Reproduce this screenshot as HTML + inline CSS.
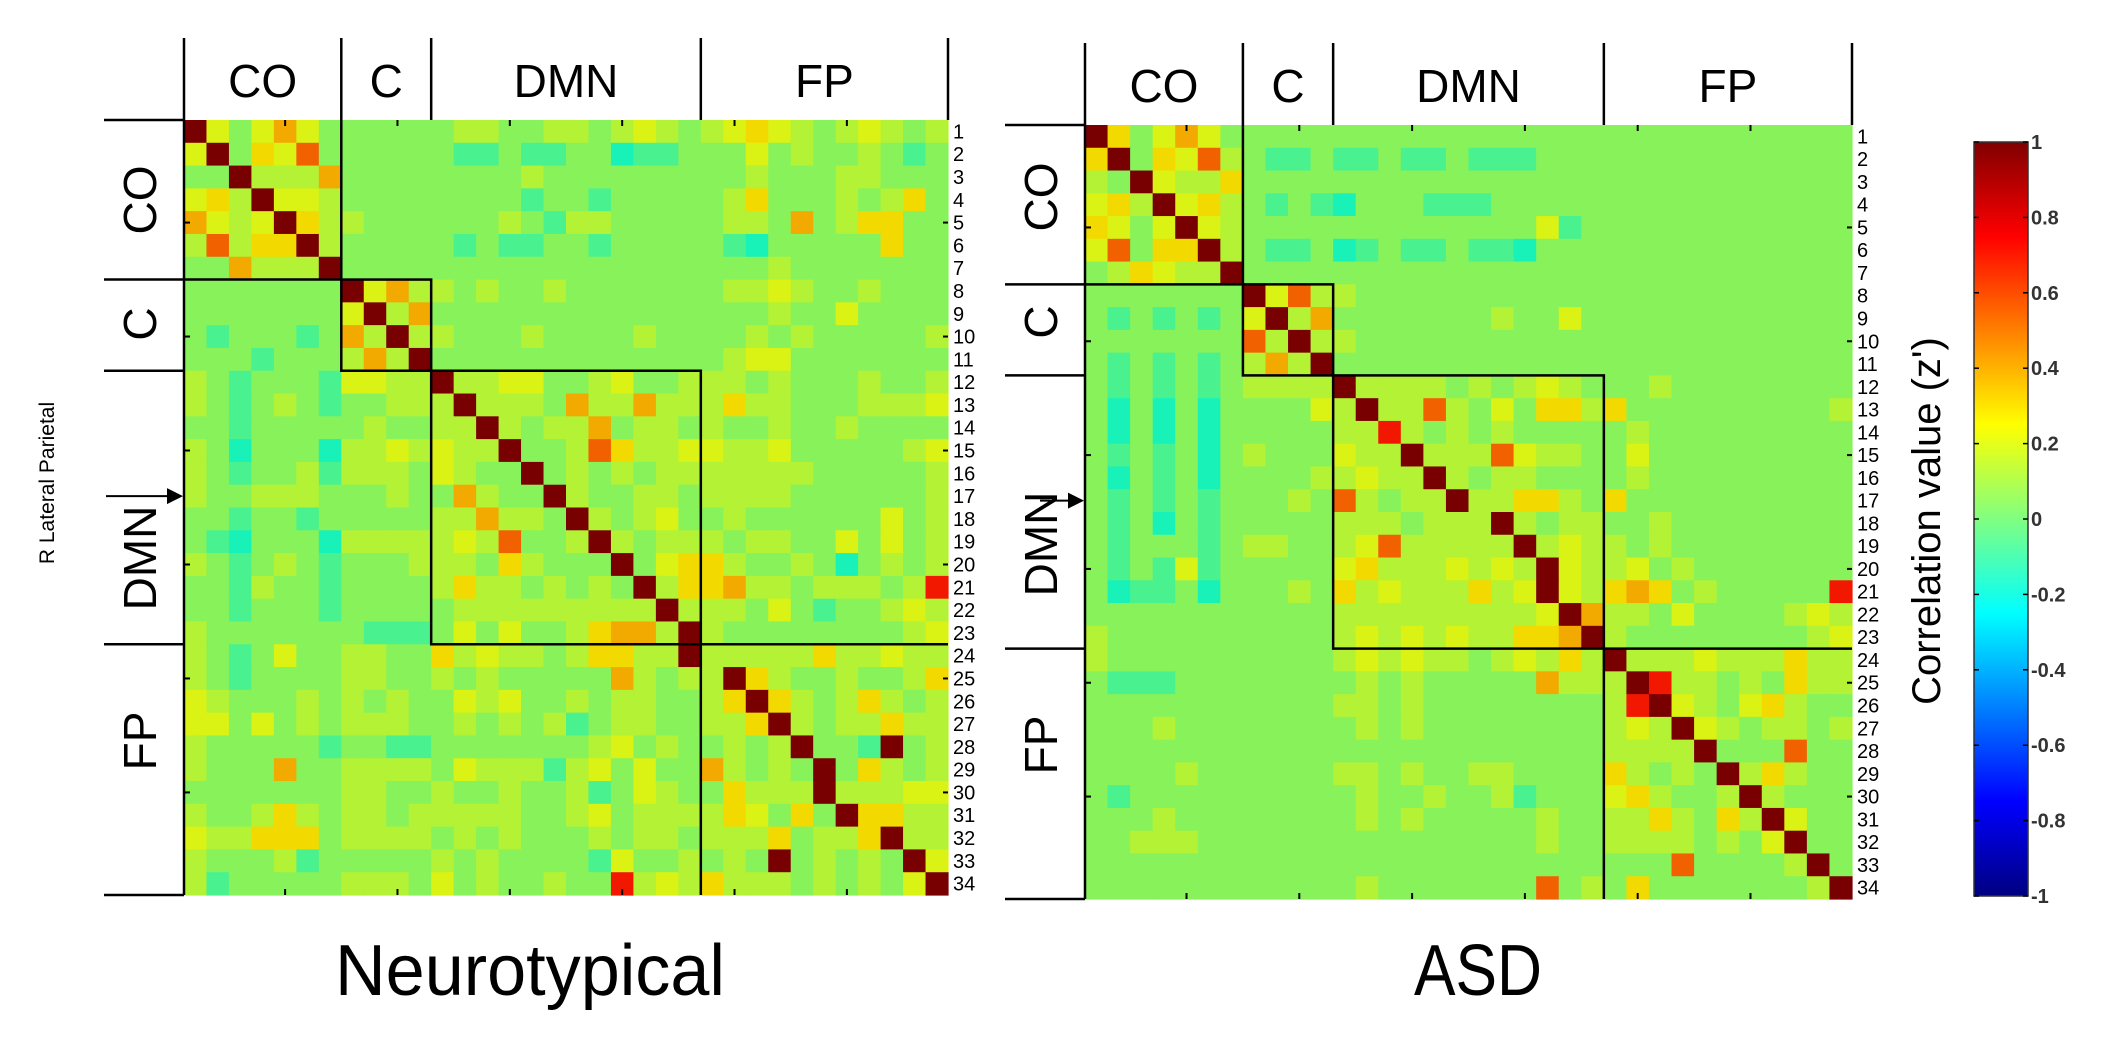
<!DOCTYPE html>
<html><head><meta charset="utf-8"><style>
html,body{margin:0;padding:0;background:#fff;}
svg{display:block;font-family:"Liberation Sans",sans-serif;}
</style></head><body>
<svg id="fig" width="2122" height="1039" viewBox="0 0 2122 1039" xmlns="http://www.w3.org/2000/svg">
<defs>
<linearGradient id="jet" x1="0" y1="1" x2="0" y2="0">
<stop offset="0" stop-color="#000080"/><stop offset="0.125" stop-color="#0000ff"/><stop offset="0.375" stop-color="#00ffff"/><stop offset="0.5" stop-color="#80ff80"/><stop offset="0.625" stop-color="#ffff00"/><stop offset="0.875" stop-color="#ff0000"/><stop offset="1" stop-color="#800000"/>
</linearGradient>
<marker id="arr" markerWidth="8" markerHeight="8" refX="7" refY="4" orient="auto"><path d="M0,0 L8,4 L0,8 z" fill="#000"/></marker>
</defs>
</svg>
<script>
// value code per digit
const levelValues = [-0.2,-0.1,0.03,0.12,0.2,0.3,0.4,0.55,0.7,1.0];
const groupNames = ["CO","C","DMN","FP"];
const groupSizes = [7,4,12,11];
const cbTicks = [1,0.8,0.6,0.4,0.2,0,-0.2,-0.4,-0.6,-0.8,-1];
const ntRows = [
"9424642222223322332343234543234323",
"4925472222221121122011222423223212",
"2293336222222223222222222322233222",
"4539443222222221221222223522232352",
"6434953322222232133222223326235522",
"3735593222221211221222221022222522",
"2263339222222222222222222232222222",
"2222222946332322322222223343223222",
"2222222493622222222222222232242222",
"2122212639332223222232222323222223",
"2221222363922222222222223442222222",
"3212221443393344223422333232223223",
"3212321223339333263363335332223334",
"2212222232233932336233232232232222",
"3202220334343392237533443342222234",
"3212231333243229232323333333222223",
"3223332223226322932233233332222223",
"2212212222233633293234223222222423",
"2102220333334372239323332332242423",
"3212321222333253222924553223202323",
"2213221222235332323293556332333238",
"2212221222223333333339333242122343",
"3222222211124242235663932222222234",
"3212422332253433235533933333533433",
"3212222332232322222632339532232235",
"4322232323224342232332235953235323",
"4424232333223232312332233593233533",
"3222221221122222223423223239221923",
"3222622333324333134242263232925323",
"2222222332232232231243225333933344",
"3223532332333332234233335425295533",
"4335552333323232223233233352335933",
"3222312222232322221422323292323294",
"3122222333242322322834353332323249"];
const asdRows = [
"9524642222222222222222222222222222",
"5925473211211211211122222222222222",
"3294335222222222222222222222222222",
"4539453212102221112222222222222222",
"5424943222222222222241222222222222",
"4725593211201211211022222222222222",
"2354339222222222222222222222222222",
"2222222947332222222222222222222222",
"2121212493622222223224222222222222",
"2222222739332222222222222222222222",
"2121212363922222222222222222222222",
"2121212333393333232343222322222222",
"2020202222439337324255352222222223",
"2020202222233832323222223222222222",
"2121202322243393337433224222222222",
"2021202222334339323322223222222222",
"2121212223273233933553252222222222",
"2120212222233323339323322322222222",
"2122212332234733333934332322222222",
"2121412222245333434394334232222222",
"2011202223253433353494356523222228",
"2222222222233333333349633242222343",
"3222222222234343433556932222222234",
"3222222222234343323435393334333533",
"2111222222223232222263339833232533",
"2222222222233232222222238943245322",
"2223222222223232222222234394323323",
"2222222222222222222222233339222722",
"2222322222233232233222253232935322",
"2122222222223223223122245322393222",
"2223222222223232222232233532539422",
"2233322222222222222232233332324922",
"2222222222222222222222222272222392",
"2222222222223222222272325222222239"];

const NS="http://www.w3.org/2000/svg";
const svg=document.getElementById('fig');
function mk(tag,attrs,parent){const e=document.createElementNS(NS,tag);for(const k in attrs)e.setAttribute(k,attrs[k]);(parent||svg).appendChild(e);return e;}
function jet(v){const t=(v+1)/2;const c=(x,f)=>Math.round(255*f*Math.max(0,Math.min(1,x)));
 return `rgb(${c(1.5-Math.abs(4*t-3),0.95)},${c(1.5-Math.abs(4*t-2),0.95)},${c(1.5-Math.abs(4*t-1),0.8)})`;}

function drawMatrix(rows,x0,y0,x1,y1,name,title,titleX,opt){
 const g=mk('g',{});
 
 
 const n=rows.length, cw=(x1-x0)/n, ch=(y1-y0)/n;
 const xs=i=>x0+i*cw, ys=j=>y0+j*ch;
 for(let r=0;r<n;r++)for(let c=0;c<n;c++){
  const v=levelValues[+rows[r][c]];
  const rc=mk('rect',{x:xs(c).toFixed(2),y:ys(r).toFixed(2),width:(cw+0.6).toFixed(2),height:(ch+0.6).toFixed(2),fill:jet(v)},g);
  
  
 }
 let acc=[0];groupSizes.forEach(s=>acc.push(acc[acc.length-1]+s));
 const L=(a,b,c,d)=>mk('line',{x1:a,y1:b,x2:c,y2:d,stroke:'#000','stroke-width':2.5},g);
 // CO block right + bottom
 L(xs(7),ys(0),xs(7),ys(7)); L(xs(0),ys(7),xs(7),ys(7));
 // C and DMN full boxes
 for(const k of [1,2]){const a=acc[k],b=acc[k+1];
  mk('rect',{x:xs(a),y:ys(a),width:xs(b)-xs(a),height:ys(b)-ys(a),fill:'none',stroke:'#000','stroke-width':2.5},g);}
 // FP block top + left
 L(xs(23),ys(23),xs(34),ys(23)); L(xs(23),ys(23),xs(23),ys(34));
 L(xs(0),y0,xs(0),y1);
 for(let k=5;k<=30;k+=5){
  const cx=xs(k-0.5), cy=ys(k-0.5);
  mk('line',{x1:cx,y1:y0,x2:cx,y2:y0+6,stroke:'#000','stroke-width':2},g);
  mk('line',{x1:cx,y1:y1,x2:cx,y2:y1-6,stroke:'#000','stroke-width':2},g);
  mk('line',{x1:x0,y1:cy,x2:x0+6,y2:cy,stroke:'#000','stroke-width':2},g);
  mk('line',{x1:x1,y1:cy,x2:x1-5,y2:cy,stroke:'#000','stroke-width':2},g);
 }
 for(let k=0;k<acc.length;k++){
  L(xs(acc[k]),y0-82,xs(acc[k]),y0);
  L(x0-80,ys(acc[k]),x0,ys(acc[k]));
 }
 for(let k=0;k<groupNames.length;k++){
  const cx=(xs(acc[k])+xs(acc[k+1]))/2;
  const t=mk('text',{x:cx,y:y0-23,'font-size':46,'text-anchor':'middle',fill:'#000'},g);
  t.textContent=groupNames[k];
  
  
  const ly=opt.leftLabelY[k];
  const t2=mk('text',{x:0,y:0,'font-size':46,'text-anchor':'middle',fill:'#000',transform:`translate(${x0-28},${ly}) rotate(-90)`},g);
  t2.textContent=groupNames[k];
  
  
 }
 for(let r=0;r<n;r++){
  const t=mk('text',{x:x1+5,y:ys(r+0.5)+7,'font-size':20,fill:'#000'},g);
  t.textContent=String(r+1);
  
  
 }
 const ay=ys(16.5);
 const ar=mk('line',{x1:opt.arrowX,y1:ay,x2:x0-3,y2:ay,stroke:'#000','stroke-width':2,'marker-end':'url(#arr)'},g);
 
 
 const tt=mk('text',{x:titleX,y:995,'font-size':72,'text-anchor':'middle',fill:'#000',textLength:opt.titleLen,lengthAdjust:'spacingAndGlyphs'},g);
 tt.textContent=title;
 
 
}
drawMatrix(ntRows,184,120,948,895,'neurotypical-matrix','Neurotypical',530,{leftLabelY:[200,324,558,741],arrowX:106,titleLen:390});
drawMatrix(asdRows,1085,125,1852,899,'asd-matrix','ASD',1478,{leftLabelY:[197,322,544,745],arrowX:1040,titleLen:128});

const rl=mk('text',{x:0,y:0,'font-size':21,'text-anchor':'middle',fill:'#000',transform:'translate(54,483) rotate(-90)'});
rl.textContent='R Lateral Parietal';



const cbx=1974, cbw=54, cby0=142, cby1=896;
const cb=mk('rect',{x:cbx,y:cby0,width:cbw,height:cby1-cby0,fill:'url(#jet)',stroke:'#333','stroke-width':1.5});


const cbScale=v=>cby1-(v+1)/2*(cby1-cby0);
cbTicks.forEach(v=>{
 const y=cbScale(v);
 mk('line',{x1:cbx,y1:y,x2:cbx+5,y2:y,stroke:'#000','stroke-width':1.5});
 mk('line',{x1:cbx+cbw,y1:y,x2:cbx+cbw-5,y2:y,stroke:'#000','stroke-width':1.5});
 const t=mk('text',{x:cbx+cbw+3,y:y+7,'font-size':20,'font-weight':'bold',fill:'#333'});
 t.textContent=String(v);
 
 
});
const cl=mk('text',{x:0,y:0,'font-size':40,'text-anchor':'middle',fill:'#000',transform:'translate(1940,521) rotate(-90)'});
cl.textContent="Correlation value (z')";


</script>
</body></html>
